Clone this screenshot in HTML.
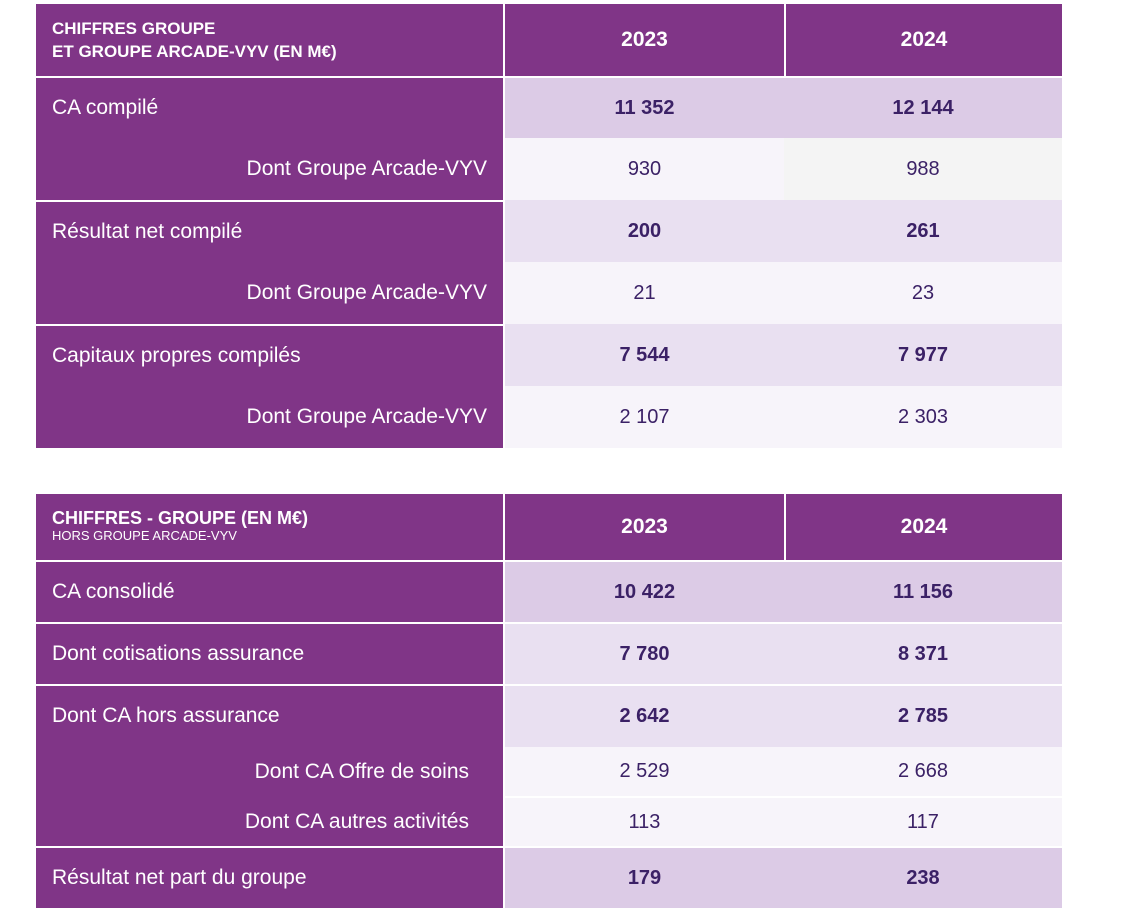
<!DOCTYPE html>
<html><head><meta charset="utf-8"><style>
body{margin:0;width:1126px;height:920px;background:#fff;position:relative;overflow:hidden;font-family:"Liberation Sans",sans-serif}
.c{position:absolute;box-sizing:border-box;display:flex;align-items:center}
.p{background:#803587;color:#fff}
.h{color:#fff;font-weight:bold;font-size:21px;justify-content:center}
.l{font-size:21px;padding-left:16px}
.r{font-size:21px;justify-content:flex-end;padding-right:16px}
.n{color:#3b2166;font-size:20px;justify-content:center}
.b{font-weight:bold}
.d{background:#dccbe6}.m{background:#e9e0f1}.w{background:#f7f4fa}.g{background:#f4f4f4}
</style></head><body>
<!-- table 1 -->
<div class="c p" style="left:36px;top:4px;width:467px;height:72px;padding-left:16px;font-weight:bold;font-size:17px;line-height:23px">CHIFFRES GROUPE<br>ET GROUPE ARCADE-VYV (EN M€)</div>
<div class="c p h" style="left:505px;top:4px;width:279px;height:72px">2023</div>
<div class="c p h" style="left:786px;top:4px;width:276px;height:72px">2024</div>

<div class="c p l" style="left:36px;top:78px;width:467px;height:60px">CA compilé</div>
<div class="c p r" style="left:36px;top:138px;width:467px;height:62px">Dont Groupe Arcade-VYV</div>
<div class="c p l" style="left:36px;top:202px;width:467px;height:60px">Résultat net compilé</div>
<div class="c p r" style="left:36px;top:262px;width:467px;height:62px">Dont Groupe Arcade-VYV</div>
<div class="c p l" style="left:36px;top:326px;width:467px;height:60px">Capitaux propres compilés</div>
<div class="c p r" style="left:36px;top:386px;width:467px;height:62px">Dont Groupe Arcade-VYV</div>

<div class="c n b d" style="left:505px;top:78px;width:557px;height:60px"><span style="width:279px;text-align:center">11 352</span><span style="width:278px;text-align:center">12 144</span></div>
<div class="c n w" style="left:505px;top:138px;width:279px;height:62px">930</div>
<div class="c n g" style="left:784px;top:138px;width:278px;height:62px">988</div>
<div class="c n b m" style="left:505px;top:200px;width:557px;height:62px"><span style="width:279px;text-align:center">200</span><span style="width:278px;text-align:center">261</span></div>
<div class="c n w" style="left:505px;top:262px;width:557px;height:62px"><span style="width:279px;text-align:center">21</span><span style="width:278px;text-align:center">23</span></div>
<div class="c n b m" style="left:505px;top:324px;width:557px;height:62px"><span style="width:279px;text-align:center">7 544</span><span style="width:278px;text-align:center">7 977</span></div>
<div class="c n w" style="left:505px;top:386px;width:557px;height:62px"><span style="width:279px;text-align:center">2 107</span><span style="width:278px;text-align:center">2 303</span></div>

<!-- table 2 -->
<div class="c p" style="left:36px;top:494px;width:467px;height:66px;padding-left:16px;display:block;padding-top:14px"><div style="font-weight:bold;font-size:18px;line-height:20px">CHIFFRES - GROUPE (EN M€)</div><div style="font-size:13px;line-height:16px">HORS GROUPE ARCADE-VYV</div></div>
<div class="c p h" style="left:505px;top:494px;width:279px;height:66px">2023</div>
<div class="c p h" style="left:786px;top:494px;width:276px;height:66px">2024</div>

<div class="c p l" style="left:36px;top:562px;width:467px;height:60px">CA consolidé</div>
<div class="c p l" style="left:36px;top:624px;width:467px;height:60px">Dont cotisations assurance</div>
<div class="c p l" style="left:36px;top:686px;width:467px;height:60px">Dont CA hors assurance</div>
<div class="c p r" style="left:36px;top:746px;width:467px;height:52px;padding-right:34px">Dont CA Offre de soins</div>
<div class="c p r" style="left:36px;top:798px;width:467px;height:48px;padding-right:34px">Dont CA autres activités</div>
<div class="c p l" style="left:36px;top:848px;width:467px;height:60px">Résultat net part du groupe</div>

<div class="c n b d" style="left:505px;top:562px;width:557px;height:60px"><span style="width:279px;text-align:center">10 422</span><span style="width:278px;text-align:center">11 156</span></div>
<div class="c n b m" style="left:505px;top:624px;width:557px;height:60px"><span style="width:279px;text-align:center">7 780</span><span style="width:278px;text-align:center">8 371</span></div>
<div class="c n b m" style="left:505px;top:686px;width:557px;height:61px"><span style="width:279px;text-align:center">2 642</span><span style="width:278px;text-align:center">2 785</span></div>
<div class="c n w" style="left:505px;top:747px;width:557px;height:49px"><span style="width:279px;text-align:center">2 529</span><span style="width:278px;text-align:center">2 668</span></div>
<div class="c n w" style="left:505px;top:798px;width:557px;height:48px"><span style="width:279px;text-align:center">113</span><span style="width:278px;text-align:center">117</span></div>
<div class="c n b d" style="left:505px;top:848px;width:557px;height:60px"><span style="width:279px;text-align:center">179</span><span style="width:278px;text-align:center">238</span></div>
</body></html>
